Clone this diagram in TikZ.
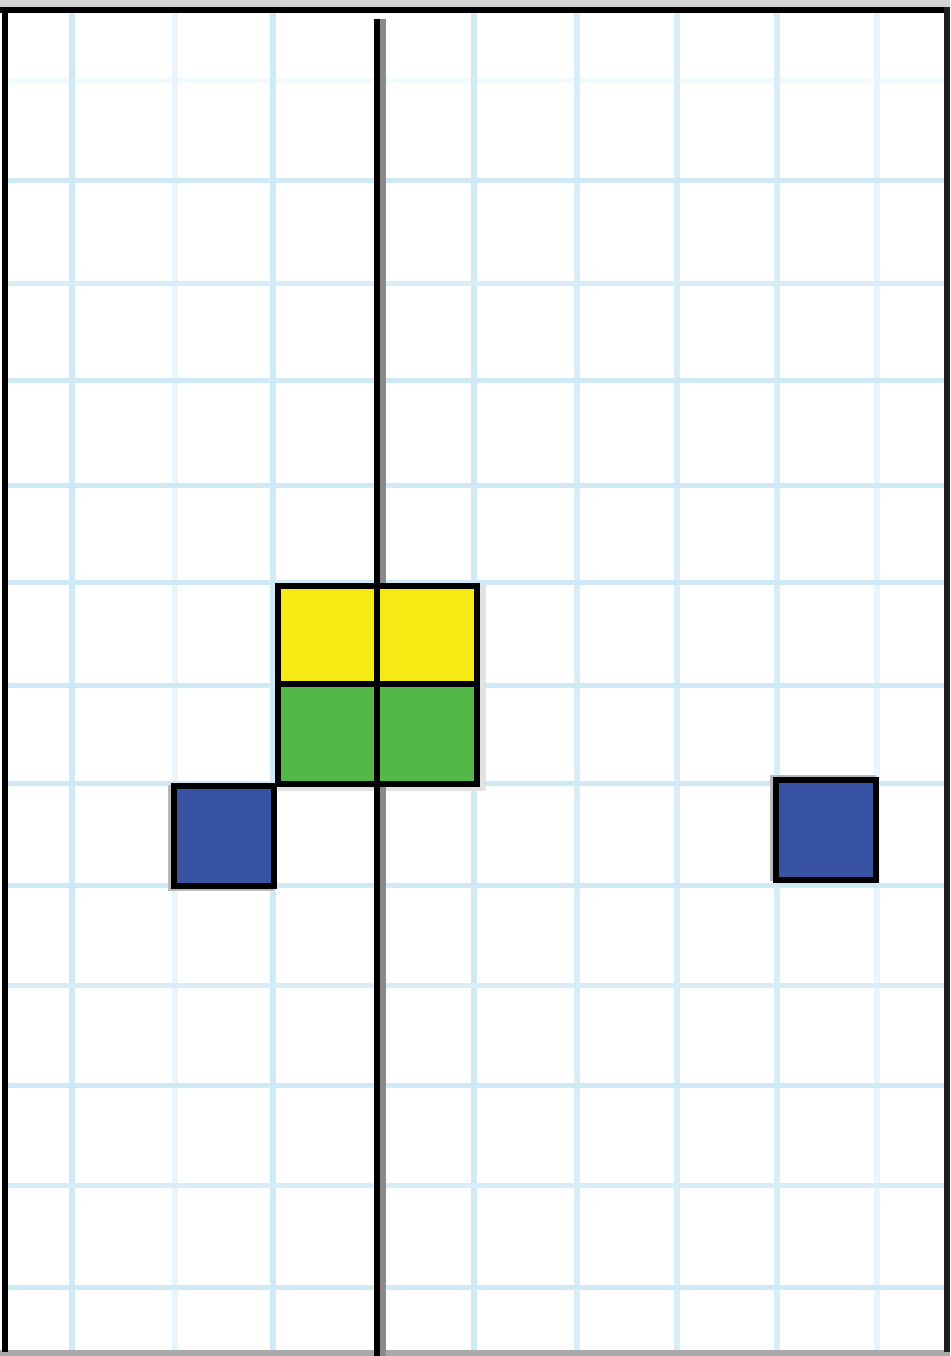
\documentclass[tikz,border=0pt]{standalone}
\definecolor{gridA}{HTML}{CFE9F7}
\definecolor{gridB}{HTML}{E8F5FC}
\definecolor{gridC}{HTML}{F3FAFD}
\definecolor{sqyellow}{HTML}{F5EA14}
\definecolor{sqgreen}{HTML}{53B848}
\definecolor{sqblue}{HTML}{3853A4}
\definecolor{bandgray}{HTML}{D3D3D3}
\definecolor{shadowgray}{HTML}{8A8A8A}
\tikzset{
  gridstrong/.style={draw=gridA, line width=0.5mm},
  gridfaint/.style={draw=gridB, line width=0.5mm},
  frameline/.style={draw=black, line width=0.6mm},
  sqbox/.style={rectangle, draw=black, line width=0.6mm, minimum width=1cm, minimum height=1cm, inner sep=0pt, outer sep=0pt},
  shadowbox/.style={rectangle, fill=shadowgray!60, minimum width=1.05cm, minimum height=1.05cm, inner sep=0pt, outer sep=0pt}
}
\begin{document}
\begin{tikzpicture}[x=0.01cm, y=-0.01cm]
  \useasboundingbox (0,0) rectangle (950,1356);
  \fill[white] (0,0) rectangle (950,1356);
  % faint horizontal first
  \foreach \gy in {80} {\draw[gridfaint, draw=gridC] (8,\gy) -- (950,\gy);}
  % grid vertical
  \foreach \gx in {72,273,474} {\draw[gridstrong] (\gx,13) -- (\gx,1350);}
  \foreach \gx in {577,677,777} {\draw[gridstrong, draw=gridA!80] (\gx,13) -- (\gx,1350);}
  \foreach \gx in {175,877} {\draw[gridfaint] (\gx,13) -- (\gx,1350);}
  % grid horizontal
  \foreach \gy in {180,380,485,582,685,783,885,1085,1287} {\draw[gridstrong] (8,\gy) -- (950,\gy);}
  \foreach \gy in {283,985,1185} {\draw[gridstrong, draw=gridA!80] (8,\gy) -- (950,\gy);}
  % frame
  \fill[bandgray] (0,0) rectangle (950,7);
  \fill[bandgray!80!black] (0,1350) rectangle (950,1356);
  \draw[frameline] (0,10) -- (950,10);
  \draw[frameline] (5,7) -- (5,1352);
  \draw[frameline, draw=black!88] (947,7) -- (947,1352);
  % shadows
  \node[shadowbox, fill=shadowgray!25] (shg) at (382,688) [minimum width=2.08cm, minimum height=2.06cm] {};
  \node[shadowbox] (shbl) at (221,838) {};
  \node[shadowbox] (shbr) at (823,828) {};
  % centre line
  \draw[line width=0.6mm, draw=shadowgray] (383,19) -- (383,1356);
  \draw[frameline] (377,19) -- (377,1356);
  % squares
  \node[sqbox, fill=sqyellow] (y1) at (328,636) {};
  \node[sqbox, fill=sqyellow] (y2) at (427,636) {};
  \node[sqbox, fill=sqgreen] (g1) at (328,734) {};
  \node[sqbox, fill=sqgreen] (g2) at (427,734) {};
  \node[sqbox, fill=sqblue] (b1) at (224,836) {};
  \node[sqbox, fill=sqblue] (b2) at (826,830) {};
\end{tikzpicture}
\end{document}
